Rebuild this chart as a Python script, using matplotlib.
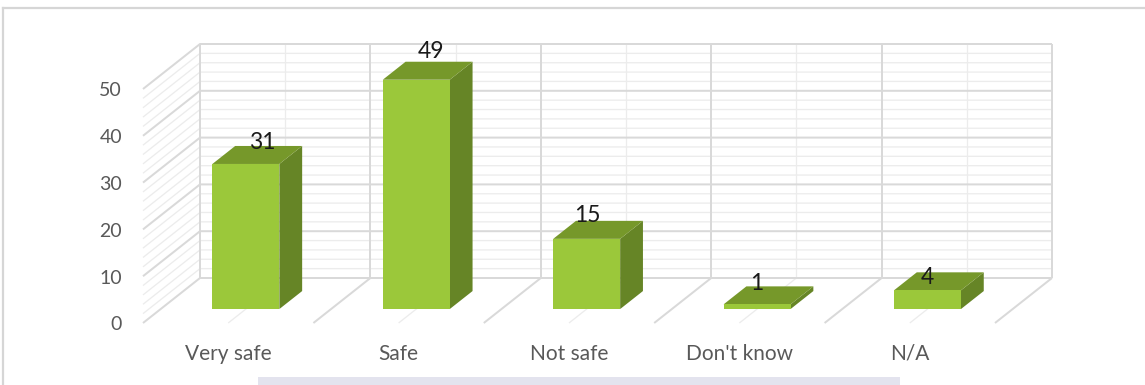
import matplotlib
matplotlib.use("Agg")
import matplotlib.pyplot as plt
from matplotlib.patches import Polygon, Rectangle
import numpy as np

# ---- data ----
categories = ["Very safe", "Safe", "Not safe", "Don't know", "N/A"]
counts = [31, 49, 15, 1, 4]
y_ticks = [0, 10, 20, 30, 40, 50]
y_max = 50
minor_step = 2

# ---- layout (pixels) ----
W, H = 1145, 385
X0, CW = 143.0, 170.4        # front-plane x of first category edge, width of a category
Y0, VS = 323.0, 4.68         # front-plane y of value 0, pixels per unit
DEPTH_X, DEPTH_Y = 57.0, 45.0  # oblique offset of the back wall
BAR_W = 0.393
D_FRONT, D_BACK = 0.31, 0.71

DX = DEPTH_X / CW
DY = DEPTH_Y / VS

FACE = "#9bc83a"
TOP = "#76982a"
SIDE = "#668526"
GRID_MAJOR = "#d9d9d9"
GRID_MINOR = "#ececec"
TXT = "#595959"
PX = 0.72  # one pixel in points

plt.rcParams["font.family"] = ["Lato", "DejaVu Sans"]

fig = plt.figure(figsize=(W / 100, H / 100), dpi=100)
ax = fig.add_axes([0, 0, 1, 1])
ax.set_xlim(-X0 / CW, (W - X0) / CW)
ax.set_ylim(-(H - Y0) / VS, Y0 / VS)
ax.axis("off")


def proj(c, v, d):
    """Oblique projection: category position, value, depth (0 front .. 1 back)."""
    return (c + d * DX, v + d * DY)


def seg(points, color, lw, z=1):
    xs, ys = zip(*points)
    ax.plot(xs, ys, color=color, lw=lw, solid_capstyle="butt", zorder=z)


n = len(categories)

# horizontal gridlines on the side wall and the back wall
for v in np.arange(0, y_max + 0.001, minor_step):
    major = (v % 10 == 0)
    col = GRID_MAJOR if major else GRID_MINOR
    lw = 2 * PX if major else 1.3 * PX
    seg([proj(0, v, 0), proj(0, v, 1), proj(n, v, 1)], col, lw, z=2 if major else 1)

# vertical lines on the back wall
for k in range(2 * n + 1):
    c = k / 2
    major = (k % 2 == 0)
    seg([proj(c, 0, 1), proj(c, y_max, 1)],
        GRID_MAJOR if major else GRID_MINOR,
        2 * PX if major else 1.3 * PX, z=2 if major else 1)

# floor lines running from the back wall toward the viewer
for k in range(1, 2 * n + 1):
    c = k / 2
    major = (k % 2 == 0)
    seg([proj(c, 0, 0), proj(c, 0, 1)],
        GRID_MAJOR if major else GRID_MINOR,
        2 * PX if major else 1.3 * PX, z=2 if major else 1)

# 3-D bars
for i, v in enumerate(counts):
    c0 = i + (1 - BAR_W) / 2
    c1 = c0 + BAR_W
    front = [proj(c0, 0, D_FRONT), proj(c1, 0, D_FRONT),
             proj(c1, v, D_FRONT), proj(c0, v, D_FRONT)]
    side = [proj(c1, 0, D_FRONT), proj(c1, 0, D_BACK),
            proj(c1, v, D_BACK), proj(c1, v, D_FRONT)]
    top = [proj(c0, v, D_FRONT), proj(c1, v, D_FRONT),
           proj(c1, v, D_BACK), proj(c0, v, D_BACK)]
    for poly, col in ((side, SIDE), (top, TOP), (front, FACE)):
        ax.add_patch(Polygon(poly, closed=True, facecolor=col,
                             edgecolor="none", zorder=5))

# value labels above the bars
label_shift = [(16, 21), (15, 28), (1, 23), (0, 21), (0, 13)]
for i, v in enumerate(counts):
    ax.annotate(str(v), xy=proj(i + 0.5, v, D_FRONT),
                xytext=label_shift[i], textcoords="offset pixels",
                ha="center", va="center", fontsize=16.5, color="#1a1a1a",
                zorder=10)

# value axis labels
for t in y_ticks:
    ax.annotate(str(t), xy=proj(0, t, 0), xytext=(-21, -2),
                textcoords="offset pixels", ha="right", va="center",
                fontsize=14, color=TXT)

# category labels
for i, name in enumerate(categories):
    ax.annotate(name, xy=proj(i + 0.5, 0, 0), xytext=(0, -31),
                textcoords="offset pixels", ha="center", va="center",
                fontsize=15, color=TXT)

# chart frame and the strip along the bottom
fig.add_artist(plt.Line2D([3 / W, 1], [1 - 8 / H, 1 - 8 / H],
                          color="#d6d6d6", lw=2.2 * PX, transform=fig.transFigure))
fig.add_artist(plt.Line2D([3 / W, 3 / W], [0, 1 - 8 / H],
                          color="#d6d6d6", lw=2.2 * PX, transform=fig.transFigure))
fig.add_artist(Rectangle((258 / W, 0), (900 - 258) / W, 8 / H,
                         facecolor="#e3e3ee", edgecolor="none",
                         transform=fig.transFigure))

fig.savefig("out.png", dpi=100, facecolor="white")
